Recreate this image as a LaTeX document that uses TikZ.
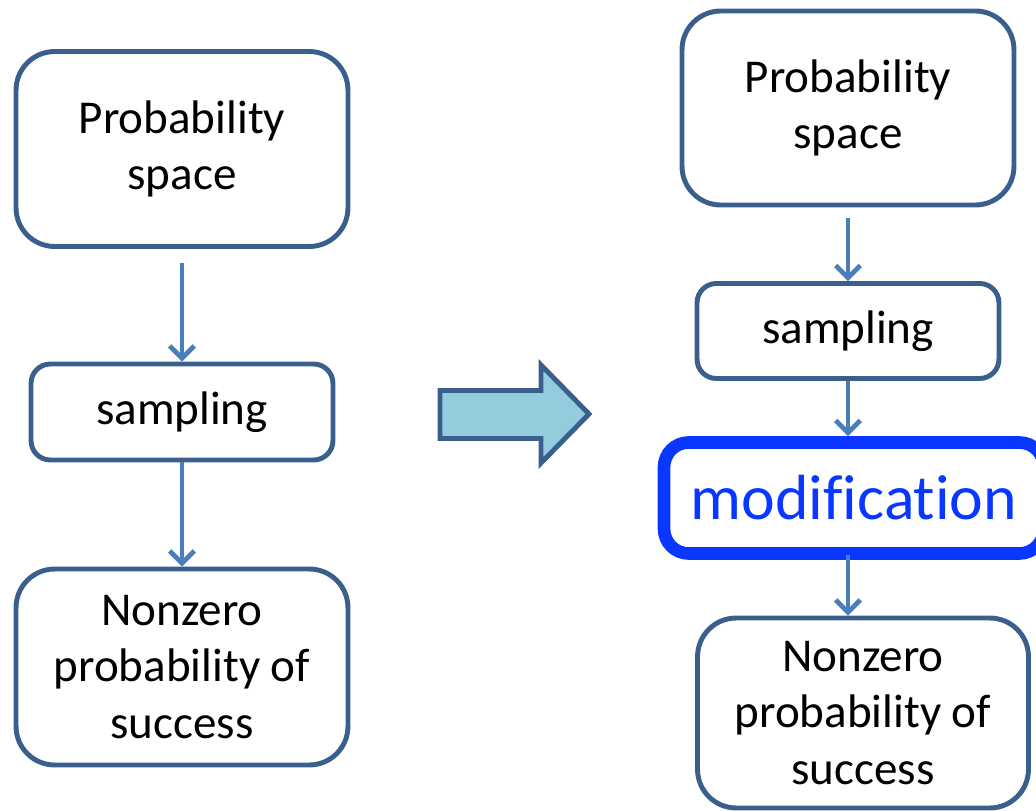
\documentclass[tikz,border=0pt]{standalone}
\usepackage{fontspec}
\setmainfont{Carlito}[Ligatures=NoCommon]
\usetikzlibrary{arrows.meta, positioning}
\definecolor{boxline}{HTML}{3B5F8C}
\definecolor{flowline}{HTML}{4A7EBB}
\definecolor{modblue}{HTML}{0A37FF}
\definecolor{arrowfill}{HTML}{93CDDD}
\tikzstyle{block} = [rectangle, draw=boxline, line width=2.8pt, rounded corners=22pt, text centered, minimum width=6.64cm, minimum height=3.9cm, font=\fontsize{26.8}{32}\selectfont]
\tikzstyle{small} = [block, rounded corners=11pt, minimum width=6.04cm, minimum height=1.92cm]
\tikzstyle{modbox} = [block, draw=modblue, line width=7.2pt, rounded corners=14pt, minimum width=7.6cm, minimum height=2.22cm, text=modblue, font=\fontsize{36.3}{40}\selectfont]
\tikzstyle{arrow} = [draw=flowline, line width=2.7pt, -{Straight Barb[length=7pt, width=14pt, line width=2.7pt]}]
\tikzstyle{bigarrow} = [draw=boxline, fill=arrowfill, line width=2.8pt, miter limit=10]

\begin{document}
\begin{tikzpicture}[x=0.02cm, y=-0.02cm]
    \useasboundingbox (0,0) rectangle (1036,811);
    \clip (0,0) rectangle (1036,811);

    % Left column
    \node (space1) [block, align=center] at (182,149) {Probability\\space};
    \node (samp1) [small] at (182,412) {sampling};
    \node (succ1) [block, align=center, minimum height=3.92cm] at (182,667) {Nonzero\\probability of\\success};

    % Right column
    \node (space2) [block, align=center, minimum height=3.88cm] at (848,108) {Probability\\space};
    \node (samp2) [small, minimum height=1.9cm] at (848,331) {sampling};
    \node (mod) [modbox] at (854,498) {modification};
    \node (succ2) [block, align=center, minimum width=6.62cm, minimum height=3.8cm] at (863,713) {Nonzero\\probability of\\success};

    % Block arrow
    \draw [bigarrow] (440,390.5) -- (541,390.5) -- (541,365) -- (589,414) -- (541,463) -- (541,438.5) -- (440,438.5) -- cycle;

    % ==== Arrows
    \draw [arrow, shorten <=8pt] (space1) -- (samp1);
    \draw [arrow] (samp1) -- (succ1);
    \draw [arrow, shorten <=6pt] (space2.south -| samp2.north) -- (samp2);
    \draw [arrow] (samp2) -- (samp2 |- mod.north);
    \draw [arrow, shorten <=-3pt] (samp2 |- mod.south) -- (samp2 |- succ2.north);

\end{tikzpicture}
\end{document}
